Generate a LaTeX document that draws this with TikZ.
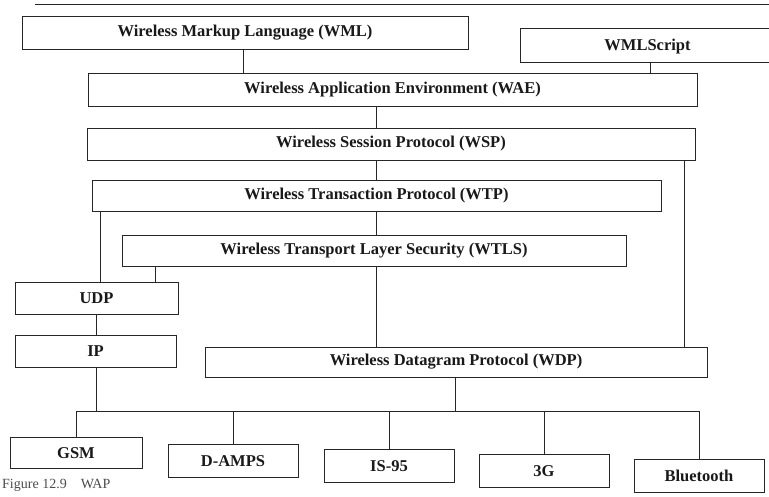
\documentclass[tikz,border=0pt]{standalone}
\usepackage{fontspec}
\setmainfont{Liberation Serif}
\usetikzlibrary{calc}
\tikzset{
  layer/.style={draw=black!85, line width=0.9pt, fill=white, inner sep=0pt,
    font=\bfseries\fontsize{16.5}{19}\selectfont, text=black!90},
  link/.style={draw=black!85, line width=0.8pt},
}
\begin{document}
\begin{tikzpicture}[x=1pt, y=-1pt]
  \useasboundingbox[fill=white] (0,0) rectangle (769,496);

  % edge of the box above
  \draw[link] (35,4) -- (769,4);

  % application layers
  \node[layer, minimum width=446pt, minimum height=33pt] (wml)  at (245,32.5)  {Wireless Markup Language (WML)};
  \node[layer, minimum width=255pt, minimum height=34pt, text depth=0pt] (wmls) at (647.5,45) {WMLScript};
  \node[layer, minimum width=609pt, minimum height=33pt] (wae)  at (392.5,89.5) {Wireless Application Environment (WAE)};
  \node[layer, minimum width=608pt, minimum height=32pt] (wsp)  at (391,144)   {Wireless Session Protocol (WSP)};
  \node[layer, minimum width=569pt, minimum height=31pt] (wtp)  at (376.5,195.5) {Wireless Transaction Protocol (WTP)};
  \node[layer, minimum width=504pt, minimum height=31pt] (wtls) at (374,250.5) {Wireless Transport Layer Security (WTLS)};

  % transport layers
  \node[layer, minimum width=163pt, minimum height=32pt] (udp) at (96.5,298) {UDP};
  \node[layer, minimum width=161pt, minimum height=32pt] (ip)  at (95.5,351) {IP};
  \node[layer, minimum width=502pt, minimum height=30pt] (wdp) at (456,362)  {Wireless Datagram Protocol (WDP)};

  % bearers
  \node[layer, minimum width=132pt, minimum height=31pt] (gsm)   at (76,453)  {GSM};
  \node[layer, minimum width=130pt, minimum height=33pt] (damps) at (233,461) {D-AMPS};
  \node[layer, minimum width=130pt, minimum height=33pt] (is95)  at (389,466) {IS-95};
  \node[layer, minimum width=130pt, minimum height=33pt] (g3)    at (544,471) {3G};
  \node[layer, minimum width=130pt, minimum height=33pt] (bt)    at (699,476) {Bluetooth};

  % column positions of the vertical links
  \coordinate (xa) at (243,0);
  \coordinate (xb) at (650,0);
  \coordinate (xc) at (376,0);
  \coordinate (xd) at (100,0);
  \coordinate (xe) at (155,0);
  \coordinate (xf) at (684,0);
  \coordinate (xg) at (96,0);
  \coordinate (xh) at (455,0);

  \draw[link] (wml.south -| xa)  -- (wae.north -| xa);
  \draw[link] (wmls.south -| xb) -- (wae.north -| xb);
  \draw[link] (wae.south -| xc)  -- (wsp.north -| xc);
  \draw[link] (wsp.south -| xc)  -- (wtp.north -| xc);
  \draw[link] (wtp.south -| xc)  -- (wtls.north -| xc);
  \draw[link] (wtls.south -| xc) -- (wdp.north -| xc);
  \draw[link] (wsp.south -| xf)  -- (wdp.north -| xf);
  \draw[link] (wtp.south -| xd)  -- (udp.north -| xd);
  \draw[link] (wtls.south -| xe) -- (udp.north -| xe);
  \draw[link] (udp.south -| xg)  -- (ip.north -| xg);

  % bearer bus
  \coordinate (bus) at (0,411);
  \draw[link] (gsm.north |- bus) -- (bt.north |- bus);
  \draw[link] (ip.south -| xg)  -- (bus -| xg);
  \draw[link] (wdp.south -| xh) -- (bus -| xh);
  \foreach \b in {gsm,damps,is95,g3,bt}
    \draw[link] (\b.north |- bus) -- (\b.north);

  % caption
  \node[anchor=north west, inner sep=0pt, font=\fontsize{14}{16}\selectfont, text=black!70] (cap) at (2,479) {Figure 12.9\quad WAP};
\end{tikzpicture}
\end{document}
